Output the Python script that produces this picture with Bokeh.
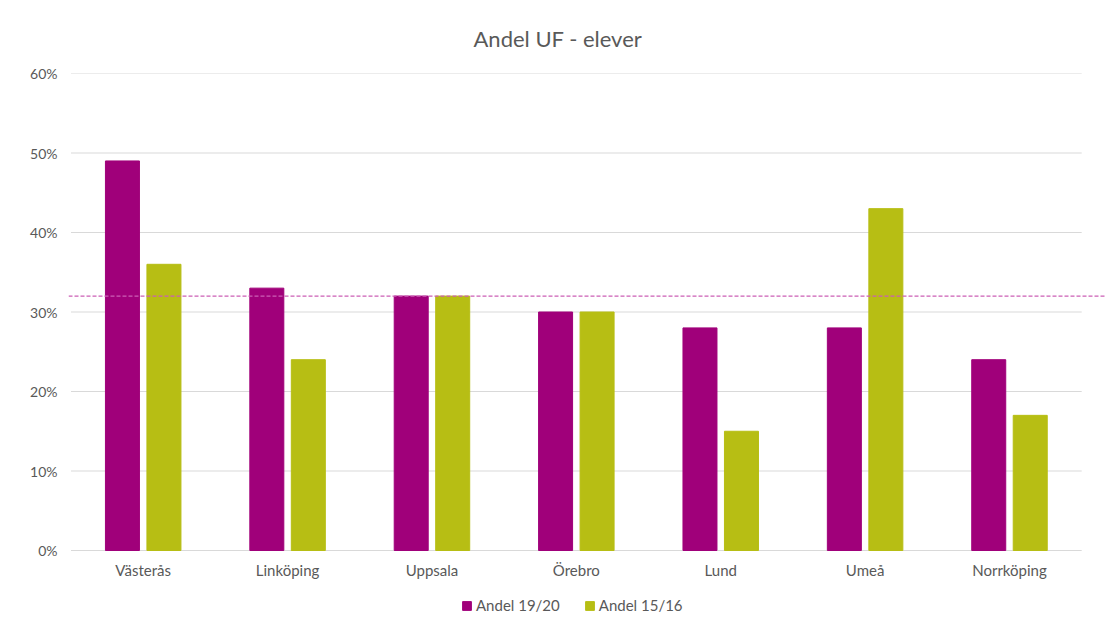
from bokeh.plotting import figure
from bokeh.models import (ColumnDataSource, Range1d, FixedTicker, Span, Legend,
                          LegendItem, Title, NumeralTickFormatter)
from bokeh.core.properties import value
from bokeh.embed import file_html
from bokeh.resources import INLINE

categories = ["Västerås", "Linköping", "Uppsala", "Örebro", "Lund", "Umeå", "Norrköping"]
andel_19_20 = [0.49, 0.33, 0.32, 0.30, 0.28, 0.28, 0.24]
andel_15_16 = [0.36, 0.24, 0.32, 0.30, 0.15, 0.43, 0.17]
reference_line = 0.32
y_ticks = [0.0, 0.1, 0.2, 0.3, 0.4, 0.5, 0.6]
series_names = ["Andel 19/20", "Andel 15/16"]

MAGENTA = "#A0007A"
GREEN = "#B7BE14"
TEXT = "#595959"
FONT = "Lato"

n = len(categories)
centers = [i + 0.5 for i in range(n)]

p = figure(width=1105, height=614, output_backend="svg", toolbar_location=None,
           x_range=Range1d(-0.0173, n + 0.165), y_range=Range1d(-0.0805, 0.6),
           min_border_left=68, min_border_right=0, min_border_top=73,
           min_border_bottom=0)
p.outline_line_color = None
p.background_fill_color = "white"
p.border_fill_color = "white"
p.xgrid.visible = False
p.ygrid.visible = False
p.xaxis.visible = False

# gridlines limited to the category span
p.segment(x0=[0] * len(y_ticks), x1=[n] * len(y_ticks), y0=y_ticks, y1=y_ticks,
          line_color="#D9D9D9", line_width=1)

off = 0.1437
w = 0.2355
src = ColumnDataSource(dict(
    xa=[c - off for c in centers], xb=[c + off for c in centers],
    a=andel_19_20, b=andel_15_16))
r1 = p.vbar(x="xa", top="a", width=w, source=src, fill_color=MAGENTA, line_color=MAGENTA)
r2 = p.vbar(x="xb", top="b", width=w, source=src, fill_color=GREEN, line_color=GREEN)

p.add_layout(Span(location=reference_line, dimension="width", line_color="#CC5FB5",
                  line_dash="4 2", line_width=1.2))

# category labels
lab_src = ColumnDataSource(dict(x=centers, y=[0] * n, t=categories))
p.text(x="x", y="y", text="t", source=lab_src, text_align="center", text_baseline="top",
       y_offset=10, text_color=TEXT, text_font=value(FONT), text_font_size="15px")

# y axis
p.yaxis.ticker = FixedTicker(ticks=y_ticks)
p.yaxis.formatter = NumeralTickFormatter(format="0%")
p.yaxis.axis_line_color = None
p.yaxis.major_tick_line_color = None
p.yaxis.minor_tick_line_color = None
p.yaxis.major_tick_out = 0
p.yaxis.major_tick_in = 0
p.yaxis.major_label_text_color = TEXT
p.yaxis.major_label_text_font = FONT
p.yaxis.major_label_text_font_size = "14px"
p.yaxis.major_label_standoff = 11

title = Title(text="Andel UF - elever", align="left", text_font=FONT,
              text_font_size="22px", text_font_style="normal", text_color=TEXT,
              offset=405, standoff=43)
p.add_layout(title, "above")

legend = Legend(items=[LegendItem(label=series_names[0], renderers=[r1]),
                       LegendItem(label=series_names[1], renderers=[r2])],
                orientation="horizontal", location=(393, 0),
                label_text_font=FONT, label_text_font_size="15px", label_text_color=TEXT,
                glyph_width=11, glyph_height=11, spacing=24, label_standoff=4,
                border_line_color=None, background_fill_alpha=0,
                padding=1, margin=0)
p.add_layout(legend, "center")

open("out.html", "w").write(file_html(p, INLINE))
